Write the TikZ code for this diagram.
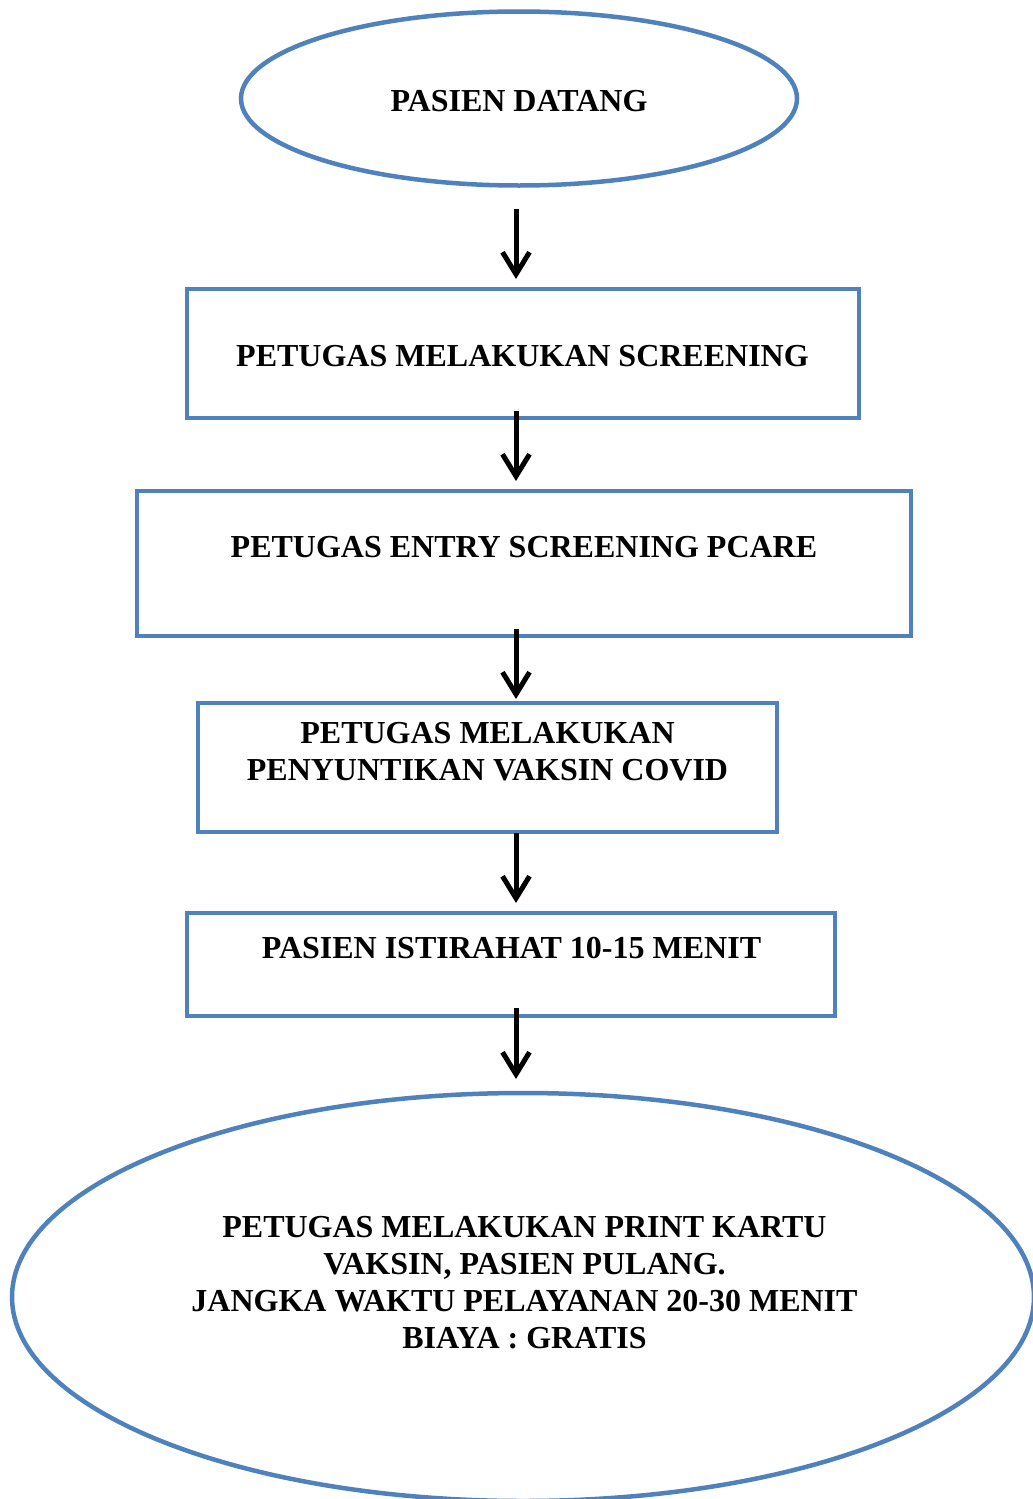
\documentclass[tikz,border=0pt]{standalone}
\usepackage{fontspec}
\setmainfont{Liberation Serif}
\usetikzlibrary{shapes.geometric,arrows.meta}
\definecolor{boxblue}{HTML}{4F81BD}
\tikzset{
  shapebox/.style={draw=boxblue, line width=4.5pt, rectangle, inner sep=0pt},
  shapeoval/.style={draw=boxblue, line width=4.5pt, ellipse, inner sep=0pt},
  txt/.style={anchor=north, inner sep=0pt, align=center, font=\fontsize{32}{37}\selectfont\bfseries},
  arr/.style={line width=5pt, -{Straight Barb[length=22pt,width=27pt]}}
}
\begin{document}
\begin{tikzpicture}[x=1pt,y=-1pt]
\useasboundingbox (0,0) rectangle (1033,1499);
% shapes
\node[shapeoval, minimum width=556pt, minimum height=174pt] (s0) at (519,98.5) {};
\node[shapebox, minimum width=672pt, minimum height=129pt] (s1) at (523,353.5) {};
\node[shapebox, minimum width=774pt, minimum height=145pt] (s2) at (524,563.5) {};
\node[shapebox, minimum width=579pt, minimum height=129pt] (s3) at (487.5,767.5) {};
\node[shapebox, minimum width=648pt, minimum height=103pt] (s4) at (511,964.5) {};
\node[shapeoval, minimum width=1022pt, minimum height=408pt] (s5) at (523,1297) {};
% texts
\node[txt] (t0) at (519,90.5) {PASIEN DATANG};
\node[txt] (t1) at (522.5,345.5) {PETUGAS MELAKUKAN SCREENING};
\node[txt] (t2) at (524,536.5) {PETUGAS ENTRY SCREENING PCARE};
\node[txt] (t3) at (487.5,722.5) {PETUGAS MELAKUKAN\\PENYUNTIKAN VAKSIN COVID};
\node[txt] (t4) at (511.5,937.5) {PASIEN ISTIRAHAT 10-15 MENIT};
\node[txt] (t5) at (524.5,1216.5) {PETUGAS MELAKUKAN PRINT KARTU\\VAKSIN, PASIEN PULANG.\\JANGKA WAKTU PELAYANAN 20-30 MENIT\\BIAYA : GRATIS};
% arrow end points
\coordinate (a1s) at (516,209); \coordinate (a1e) at (516,279);
\coordinate (a2s) at (516,411); \coordinate (a2e) at (516,481);
\coordinate (a3s) at (516,629); \coordinate (a3e) at (516,699);
\coordinate (a4s) at (516,833); \coordinate (a4e) at (516,903);
\coordinate (a5s) at (516,1008); \coordinate (a5e) at (516,1079);
\draw[arr] (a1s) -- (a1e);
\draw[arr] (a2s) -- (a2e);
\draw[arr] (a3s) -- (a3e);
\draw[arr] (a4s) -- (a4e);
\draw[arr] (a5s) -- (a5e);
\end{tikzpicture}
\end{document}
